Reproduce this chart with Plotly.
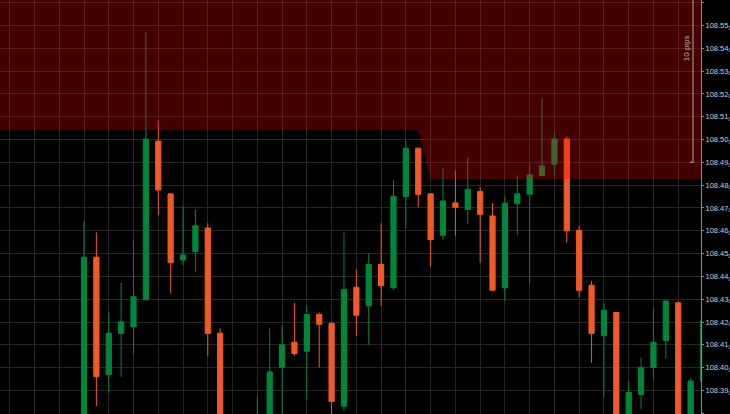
import plotly.graph_objects as go

# ---- data (candle index, OHLC) ----
candle_idx = list(range(0, 51))
opens = [108.370, 108.4484, 108.397, 108.415, 108.4179, 108.4299, 108.4993, 108.4762, 108.4472, 108.4508,
         108.4612, 108.4151, 108.376, 108.365, 108.368, 108.372, 108.4001, 108.4111, 108.4072, 108.4233,
         108.4194, 108.3831, 108.4352, 108.4271, 108.4453, 108.435, 108.475, 108.4962, 108.4762, 108.458,
         108.4722, 108.4693, 108.4772, 108.4665, 108.435, 108.4719, 108.476, 108.4842, 108.4892, 108.5002,
         108.4602, 108.4361, 108.414, 108.4242, 108.376, 108.3882, 108.4001, 108.4119, 108.4284, 108.376,
         108.394]
highs = [108.4643, 108.4593, 108.4242, 108.4371, 108.4563, 108.5474, 108.5083, 108.4762, 108.471, 108.4694,
         108.4633, 108.4172, 108.378, 108.374, 108.3875, 108.4172, 108.4182, 108.4284, 108.4274, 108.4242,
         108.4201, 108.4593, 108.4432, 108.4501, 108.4633, 108.4823, 108.4996, 108.4962, 108.4762, 108.4874,
         108.4864, 108.4923, 108.4791, 108.4721, 108.475, 108.4844, 108.4895, 108.5182, 108.5024, 108.5013,
         108.4622, 108.4381, 108.4283, 108.4242, 108.3941, 108.4043, 108.4264, 108.4295, 108.4290, 108.3953,
         108.4215]
lows = [108.366, 108.3831, 108.3889, 108.396, 108.4062, 108.4292, 108.4669, 108.4328, 108.445, 108.442,
        108.4052, 108.372, 108.360, 108.358, 108.362, 108.368, 108.376, 108.4052, 108.386, 108.4001,
        108.376, 108.381, 108.414, 108.4099, 108.4271, 108.434, 108.4609, 108.4703, 108.4442, 108.456,
        108.4579, 108.463, 108.446, 108.4339, 108.4292, 108.458, 108.437, 108.4842, 108.4842, 108.4548,
        108.4308, 108.4021, 108.3872, 108.372, 108.372, 108.3819, 108.3949, 108.404, 108.372, 108.372,
        108.390]
closes = [108.4484, 108.3960, 108.4151, 108.4201, 108.4311, 108.5002, 108.4779, 108.446, 108.4494, 108.4622,
          108.415, 108.376, 108.365, 108.370, 108.376, 108.3981, 108.41, 108.4062, 108.4233, 108.419,
          108.3852, 108.4343, 108.423, 108.4453, 108.4359, 108.4751, 108.4962, 108.476, 108.4561, 108.4731,
          108.4703, 108.4782, 108.4672, 108.4339, 108.4721, 108.4762, 108.4845, 108.4884, 108.5002, 108.46,
          108.4339, 108.415, 108.4252, 108.375, 108.3891, 108.4001, 108.4111, 108.4292, 108.376, 108.3941,
          108.4204]

# resistance zone (upper bound beyond view, lower bound per index)
zone_x = [-8, 27, 28, 52]
zone_low = [108.5041, 108.5041, 108.4827, 108.4827]
zone_top = [108.60, 108.60, 108.60, 108.60]

# 10-pip measuring bracket
pip_low = 108.49
pip_high = 108.59
pip_label = "10 pips"

tick_vals = [round(108.38 + 0.01 * k, 2) for k in range(19)]
tick_text = [f"{v:.2f}<sub>0</sub>" for v in tick_vals]

GREEN = "#00873C"
ORANGE = "#F15A24"

fig = go.Figure()
fig.add_trace(go.Candlestick(
    x=candle_idx, open=opens, high=highs, low=lows, close=closes,
    increasing=dict(line=dict(color=GREEN, width=1), fillcolor=GREEN),
    decreasing=dict(line=dict(color=ORANGE, width=1), fillcolor=ORANGE),
    whiskerwidth=0, showlegend=False, hoverinfo="skip"))

fig.add_trace(go.Scatter(x=zone_x, y=zone_top, mode="lines", line=dict(width=0),
                         showlegend=False, hoverinfo="skip"))
fig.add_trace(go.Scatter(x=zone_x, y=zone_low, mode="lines", line=dict(width=0),
                         fill="tonexty", fillcolor="rgba(255,0,0,0.27)",
                         showlegend=False, hoverinfo="skip"))

# bracket
fig.add_shape(type="line", xref="paper", yref="y", x0=0.9886, x1=0.9886, y0=pip_low, y1=pip_high,
              line=dict(color="rgba(220,220,220,0.75)", width=1), layer="above")
fig.add_shape(type="line", xref="paper", yref="y", x0=0.9843, x1=0.9886, y0=pip_low, y1=pip_low,
              line=dict(color="rgba(220,220,220,0.75)", width=1), layer="above")
fig.add_annotation(xref="paper", yref="y", x=0.9785, y=(pip_low + pip_high) / 2,
                   xanchor="center", yanchor="middle",
                   text=pip_label, textangle=-90, showarrow=False,
                   font=dict(family="Liberation Sans, Arial", size=8, color="rgba(220,220,220,0.8)"))

GRID = "#262626"
fig.update_layout(
    width=730, height=414,
    margin=dict(l=0, r=29, t=0, b=0),
    paper_bgcolor="black", plot_bgcolor="black",
    boxgap=0.4,
    showlegend=False,
    xaxis=dict(range=[-6.785, 49.84], rangeslider=dict(visible=False),
               showgrid=True, gridcolor=GRID, gridwidth=1, dtick=2, tick0=0,
               showticklabels=False, zeroline=False, showline=False, ticks=""),
    yaxis=dict(side="right", range=[108.37967, 108.56117],
               tickvals=tick_vals, ticktext=tick_text,
               showgrid=True, gridcolor=GRID, gridwidth=1, zeroline=False,
               showline=True, linecolor="#8a8a8a", linewidth=1,
               ticks="outside", ticklen=2, tickcolor="#8a8a8a",
               tickfont=dict(family="Liberation Sans, Arial", size=7.5, color="#c8d0dc")),
)

fig.write_html("out.html", config={"displayModeBar": False},
               post_script="document.body.style.margin='0';document.body.style.background='black';")
